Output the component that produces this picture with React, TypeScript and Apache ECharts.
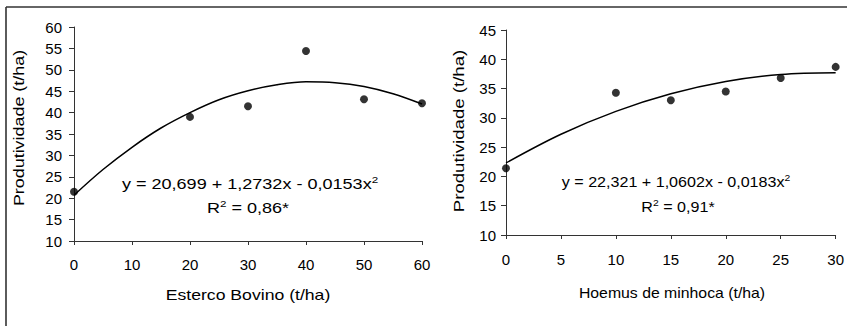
import React, { useEffect, useRef } from "react";
import * as echarts from "echarts";

// ---- data ----
const esterco = [0, 20, 30, 40, 50, 60];
const esterCoYield = [21.5, 39.0, 41.5, 54.4, 43.1, 42.2];
const esterCurveX = [0, 5, 10, 15, 20, 25, 30, 35, 40, 45, 50, 55, 60];
const esterCurveY = [20.7, 26.7, 31.9, 36.4, 40.0, 43.0, 45.1, 46.5, 47.2, 47.0, 46.1, 44.4, 42.0];

const humus = [0, 10, 15, 20, 25, 30];
const humusYield = [21.4, 34.3, 33.0, 34.5, 36.8, 38.7];
const humusCurveX = [0, 5, 10, 15, 20, 25, 30];
const humusCurveY = [22.3, 27.2, 31.1, 34.1, 36.2, 37.4, 37.7];

const leftXAxisRange = [0, 60, 10];
const leftYAxisRange = [10, 60, 5];
const rightXAxisRange = [0, 30, 5];
const rightYAxisRange = [10, 45, 5];

const yTitle = "Produtividade (t/ha)";
const leftXTitle = "Esterco Bovino (t/ha)";
const rightXTitle = "Hoemus de minhoca (t/ha)";
const leftEq = "y = 20,699 + 1,2732x - 0,0153x{sup|2}";
const leftR2 = "R{sup|2} = 0,86*";
const rightEq = "y = 22,321 + 1,0602x - 0,0183x{sup|2}";
const rightR2 = "R{sup|2} = 0,91*";

const FONT = '"Liberation Sans", Arial, Helvetica, sans-serif';
const AXIS_COLOR = "#333";

const zip = (a: number[], b: number[]) => a.map((v, i) => [v, b[i]]);

function xAxisCfg(grid: number, r: number[], margin: number) {
  return {
    type: "value",
    gridIndex: grid,
    min: r[0],
    max: r[1],
    interval: r[2],
    axisLine: { show: true, onZero: false, lineStyle: { color: AXIS_COLOR, width: 1 } },
    axisTick: { show: true, length: 4, lineStyle: { color: AXIS_COLOR, width: 1 } },
    axisLabel: { color: "#000", fontSize: 15, fontFamily: FONT, margin, showMinLabel: true, showMaxLabel: true },
    splitLine: { show: false },
  };
}
function yAxisCfg(grid: number, r: number[], margin: number) {
  return {
    type: "value",
    gridIndex: grid,
    min: r[0],
    max: r[1],
    interval: r[2],
    axisLine: { show: true, onZero: false, lineStyle: { color: AXIS_COLOR, width: 1 } },
    axisTick: { show: true, length: 5, lineStyle: { color: AXIS_COLOR, width: 1 } },
    axisLabel: { color: "#000", fontSize: 15, fontFamily: FONT, margin, showMinLabel: true, showMaxLabel: true },
    splitLine: { show: false },
  };
}

const supRich = {
  sup: { fontSize: 9, fontFamily: FONT, fill: "#000", padding: [0, 0, 8, 0] },
};

function label(text: string, x: number, y: number, scaleX: number, rotation = 0, rich = false) {
  return {
    type: "text",
    x,
    y,
    rotation,
    scaleX,
    silent: true,
    style: {
      text,
      fontSize: 14,
      fontFamily: FONT,
      fill: "#000",
      align: "center",
      verticalAlign: "middle",
      ...(rich ? { rich: supRich } : {}),
    },
  };
}

export default function App() {
  const ref = useRef<HTMLDivElement>(null);
  useEffect(() => {
    const chart = echarts.init(ref.current!, null, { renderer: "svg" });
    const option = {
      animation: false,
      backgroundColor: "#fff",
      grid: [
        { left: 74, top: 27, width: 348, height: 214 },
        { left: 506, top: 30, width: 332, height: 205 },
      ],
      xAxis: [xAxisCfg(0, leftXAxisRange, 16), xAxisCfg(1, rightXAxisRange, 17)],
      yAxis: [yAxisCfg(0, leftYAxisRange, 12), yAxisCfg(1, rightYAxisRange, 10)],
      series: [
        {
          type: "line",
          xAxisIndex: 0,
          yAxisIndex: 0,
          data: zip(esterCurveX, esterCurveY),
          smooth: 0.35,
          showSymbol: false,
          symbol: "none",
          lineStyle: { color: "#000", width: 1.5 },
          z: 2,
        },
        {
          type: "scatter",
          xAxisIndex: 0,
          yAxisIndex: 0,
          data: zip(esterco, esterCoYield),
          symbol: "circle",
          symbolSize: 8,
          itemStyle: { color: "#000" },
          z: 3,
        },
        {
          type: "line",
          xAxisIndex: 1,
          yAxisIndex: 1,
          data: zip(humusCurveX, humusCurveY),
          smooth: 0.35,
          showSymbol: false,
          symbol: "none",
          lineStyle: { color: "#000", width: 1.5 },
          z: 2,
        },
        {
          type: "scatter",
          xAxisIndex: 1,
          yAxisIndex: 1,
          data: zip(humus, humusYield),
          symbol: "circle",
          symbolSize: 8,
          itemStyle: { color: "#000" },
          z: 3,
        },
      ],
      graphic: [
        { type: "line", silent: true, shape: { x1: 6, y1: 7, x2: 847, y2: 7 }, style: { stroke: AXIS_COLOR, lineWidth: 1.6 } },
        { type: "line", silent: true, shape: { x1: 6, y1: 7, x2: 6, y2: 326 }, style: { stroke: AXIS_COLOR, lineWidth: 1.6 } },
        label(leftXTitle, 248, 295, 1.26),
        label(rightXTitle, 672, 293, 1.13),
        label(yTitle, 19, 128, 1.28, Math.PI / 2),
        label(yTitle, 459, 131, 1.33, Math.PI / 2),
        label(leftEq, 250, 184, 1.29, 0, true),
        label(leftR2, 248, 208, 1.29, 0, true),
        label(rightEq, 676, 182, 1.15, 0, true),
        label(rightR2, 678, 207, 1.15, 0, true),
      ],
    };
    chart.setOption(option as any);
    return () => chart.dispose();
  }, []);
  return (
    <div
      ref={ref}
      style={{ position: "absolute", left: 0, top: 0, width: 847, height: 326, background: "#fff" }}
    />
  );
}
